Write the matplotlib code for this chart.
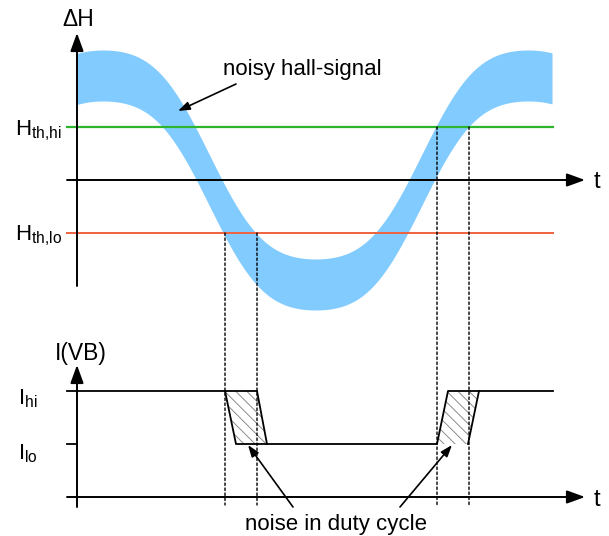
import numpy as np
import matplotlib
matplotlib.use("Agg")
import matplotlib.pyplot as plt
from matplotlib.patches import Polygon, ConnectionPatch

plt.rcParams['font.family'] = ['Liberation Sans', 'DejaVu Sans']
plt.rcParams['mathtext.fontset'] = 'custom'
plt.rcParams['mathtext.rm'] = 'Liberation Sans'
plt.rcParams['hatch.linewidth'] = 0.7

# hall signal, t counted from the vertical axis
t_end = 475
period = 425
t_peak = 26
amp = 104.5
harm3 = 0.07       # a bit steeper than a pure sine
noise = 25.5       # half width of the noisy band

# thresholds
h_th_hi = 53
h_th_lo = -53

# output current levels
i_hi = 106
i_lo = 53

# switching windows (start / end of the noisy edge)
fall_hi = [148, 180]
fall_lo = [159, 190]
rise_lo = [360, 391]
rise_hi = [371, 402]
dots_fall = [148, 180]
dots_rise = [360, 392]

t_line = [-10, 476]
t_axis_end = 508

fs = 16

fig = plt.figure(figsize=(6.09, 5.36), dpi=100)
ax1 = fig.add_axes([0, 236 / 536, 1, 300 / 536])
ax1.set_xlim(-77, 532)
ax1.set_ylim(-120, 180)
ax1.axis('off')
ax2 = fig.add_axes([0, 0, 1, 236 / 536])
ax2.set_xlim(-77, 532)
ax2.set_ylim(-39, 197)
ax2.axis('off')

arrow = dict(arrowstyle='-|>,head_length=1.1,head_width=0.4', color='k',
             lw=1.4, shrinkA=0, shrinkB=0, mutation_scale=10)
small_arrow = dict(arrowstyle='-|>,head_length=0.7,head_width=0.25', color='k',
                   lw=1.2, shrinkA=0, shrinkB=0, mutation_scale=10)

# --- upper part: noisy hall signal
t = np.linspace(0, t_end, 500)
th = 2 * np.pi * (t - t_peak) / period
sig = amp * (np.cos(th) - harm3 * np.cos(3 * th)) / (1 - harm3)
ax1.fill_between(t, sig - noise, sig + noise, color='#82CBFF', lw=0, zorder=1,
                 clip_on=False)

ax1.plot(t_line, [h_th_hi, h_th_hi], color='#2DB52D', lw=1.6, zorder=2)
ax1.plot(t_line, [h_th_lo, h_th_lo], color='#F0623E', lw=1.4, zorder=2)

ax1.annotate('', xy=(t_axis_end, 0), xytext=(-10, 0), arrowprops=arrow, zorder=3)
ax1.annotate('', xy=(0, 147), xytext=(0, -106), arrowprops=arrow, zorder=3)

ax1.text(1, 161, '\u0394H', ha='center', va='center', fontsize=16.5)
ax1.text(520, -2.5, 't', ha='center', va='center', fontsize=fs + 1)
ax1.text(-62, 45, r'H$_{\mathrm{th{,}hi}}$', ha='left', va='baseline', fontsize=fs)
ax1.text(-62, -60, r'H$_{\mathrm{th{,}lo}}$', ha='left', va='baseline', fontsize=fs)
ax1.text(146, 105, 'noisy hall-signal', ha='left', va='baseline', fontsize=fs)
ax1.annotate('', xy=(101, 69), xytext=(159, 96), arrowprops=small_arrow)

# --- lower part: output current
for pts in ([(fall_hi[0], i_hi), (fall_hi[1], i_hi), (fall_lo[1], i_lo), (fall_lo[0], i_lo)],
            [(rise_lo[0], i_lo), (rise_hi[0], i_hi), (rise_hi[1], i_hi), (rise_lo[1], i_lo)]):
    ax2.add_patch(Polygon(pts, closed=True, facecolor='none', edgecolor='#8c8c8c',
                          lw=0, hatch='\\\\\\', zorder=1))

t_wave = [t_line[0], fall_hi[0], fall_lo[0], rise_lo[0], rise_hi[0], t_line[1]]
i_wave = [i_hi, i_hi, i_lo, i_lo, i_hi, i_hi]
ax2.plot(t_wave, i_wave, color='k', lw=1.3, zorder=2)
ax2.plot([fall_hi[0], fall_hi[1], fall_lo[1]], [i_hi, i_hi, i_lo], color='k', lw=1.3, zorder=2)
ax2.plot([rise_lo[1], rise_hi[1]], [i_lo, i_hi], color='k', lw=1.3, zorder=2)
ax2.plot([-10, 0], [i_lo, i_lo], color='k', lw=1.3)

ax2.annotate('', xy=(t_axis_end, 0), xytext=(-10, 0), arrowprops=arrow, zorder=3)
ax2.annotate('', xy=(0, 132), xytext=(0, -10), arrowprops=arrow, zorder=3)

ax2.text(-22, 137, 'I(VB)', ha='left', va='baseline', fontsize=16.5)
ax2.text(520, -2.5, 't', ha='center', va='center', fontsize=fs + 1)
ax2.text(-59, 93, r'I$_{\mathrm{hi}}$', ha='left', va='baseline', fontsize=fs)
ax2.text(-59, 38, r'I$_{\mathrm{lo}}$', ha='left', va='baseline', fontsize=fs)
ax2.text(259, -33, 'noise in duty cycle', ha='center', va='baseline', fontsize=fs)
ax2.annotate('', xy=(171, 52), xytext=(216, -10), arrowprops=small_arrow)
ax2.annotate('', xy=(375, 52), xytext=(323, -10), arrowprops=small_arrow)

# dotted guides from the thresholds down to the time axis
for tx in dots_fall:
    fig.add_artist(ConnectionPatch(xyA=(tx, h_th_lo), coordsA=ax1.transData,
                                   xyB=(tx, -8), coordsB=ax2.transData,
                                   color='k', lw=1.0, linestyle=(0, (1.8, 1.8))))
for tx in dots_rise:
    fig.add_artist(ConnectionPatch(xyA=(tx, h_th_hi), coordsA=ax1.transData,
                                   xyB=(tx, -8), coordsB=ax2.transData,
                                   color='k', lw=1.0, linestyle=(0, (1.8, 1.8))))

fig.savefig('out.png', dpi=100)
